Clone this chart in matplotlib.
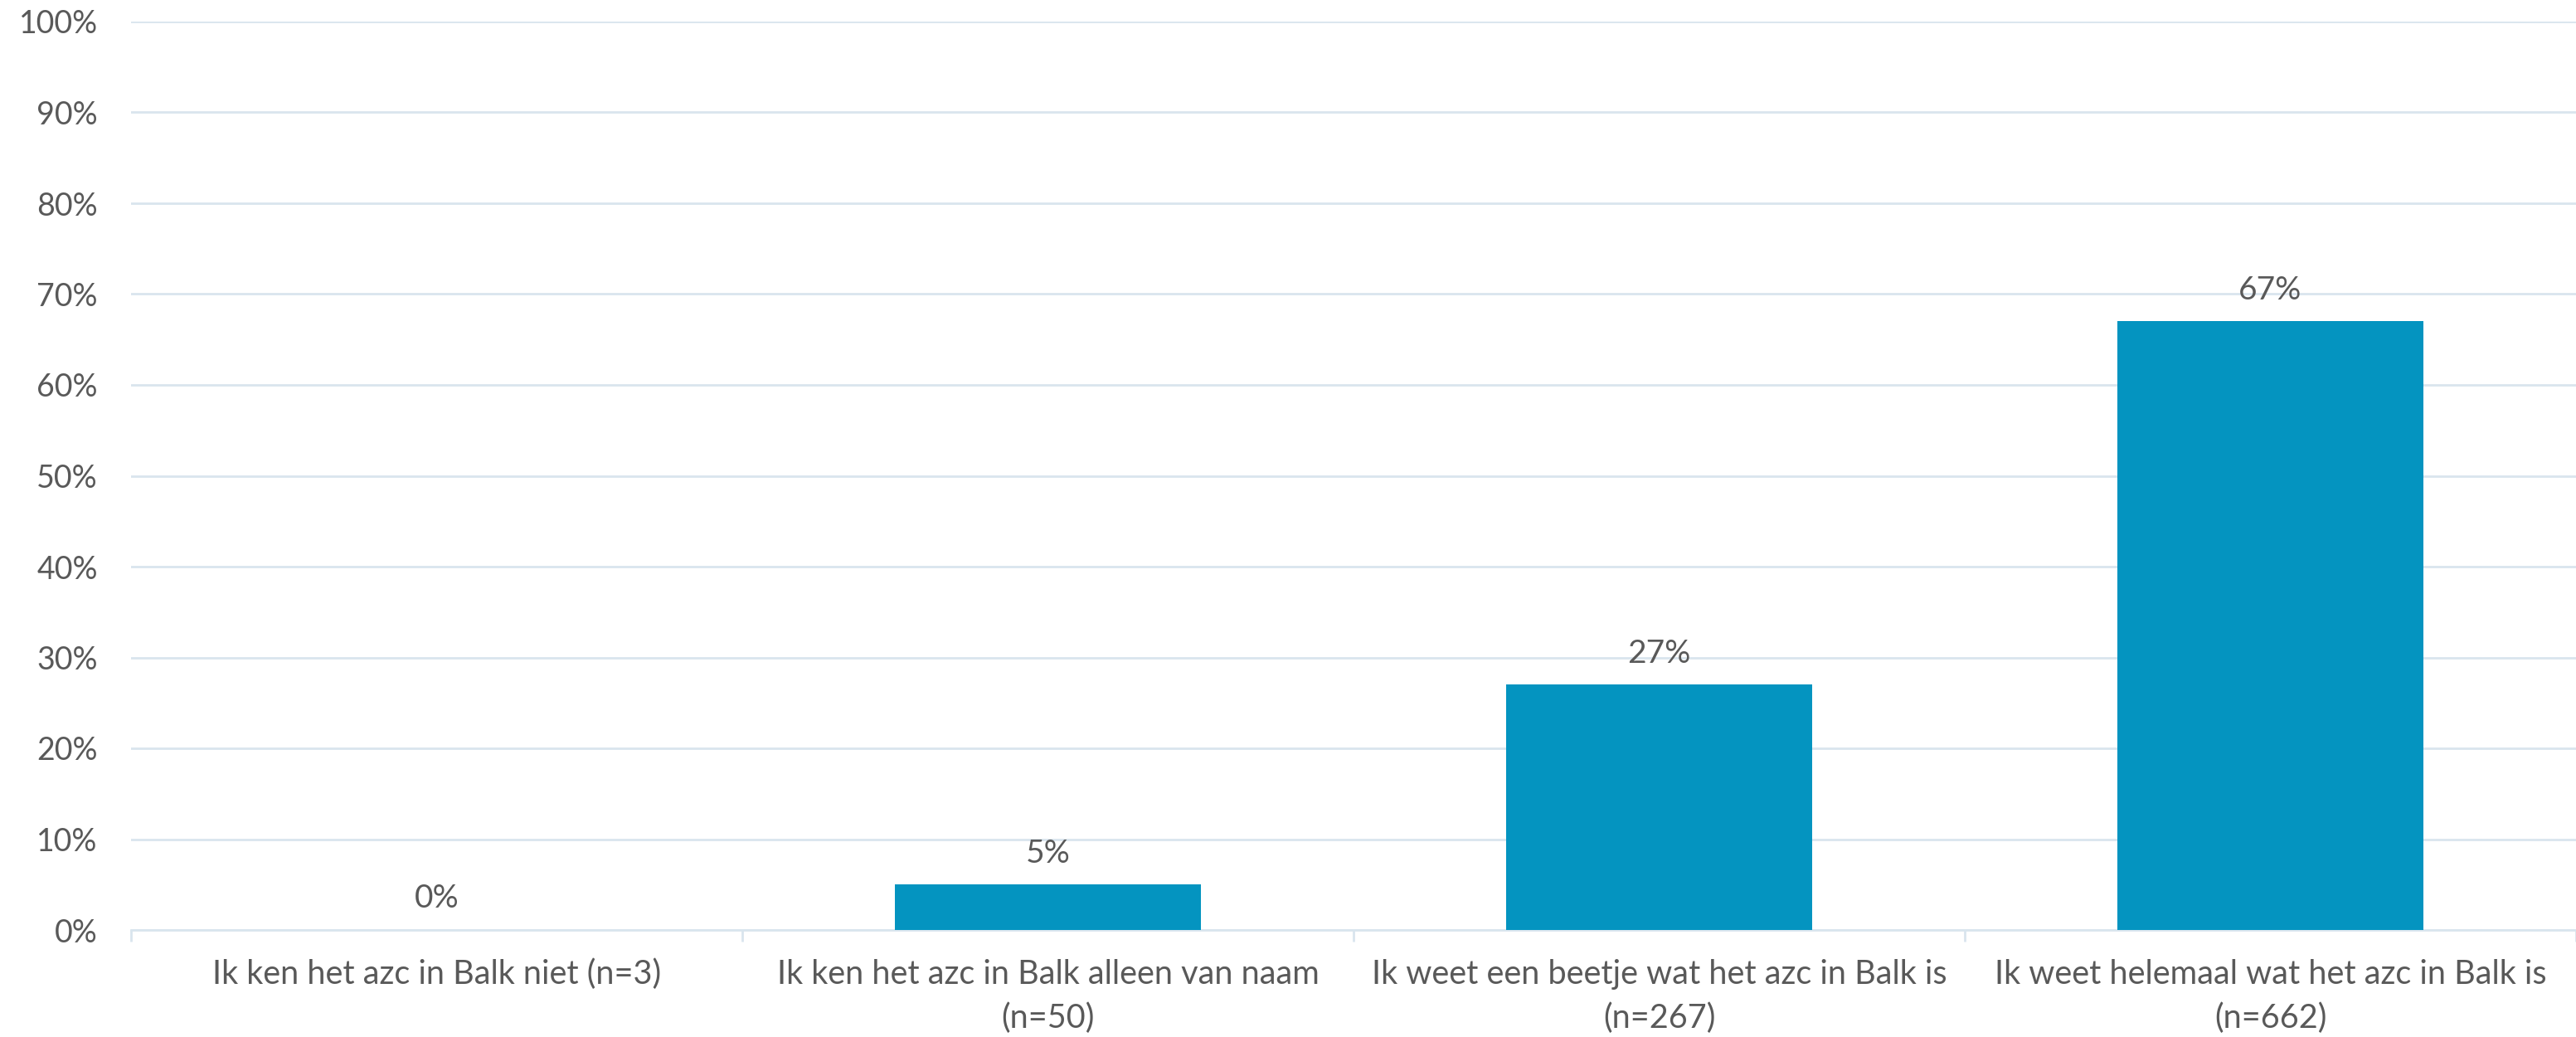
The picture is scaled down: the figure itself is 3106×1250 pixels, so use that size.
import numpy as np
import matplotlib.pyplot as plt
from matplotlib.ticker import FixedLocator, PercentFormatter

plt.rcParams['font.family'] = ['Lato', 'DejaVu Sans']

# data
categories = [
    'Ik ken het azc in Balk niet (n=3)',
    'Ik ken het azc in Balk alleen van naam\n(n=50)',
    'Ik weet een beetje wat het azc in Balk is\n(n=267)',
    'Ik weet helemaal wat het azc in Balk is\n(n=662)',
]
values = [0, 5, 27, 67]
value_labels = ['0%', '5%', '27%', '67%']

bar_color = '#0494C0'
text_color = '#595959'
grid_color = '#D9E5EE'

fig = plt.figure(figsize=(31.06, 12.5), dpi=100)
ax = fig.add_axes([158/3106, 1 - 1121/1250, 1 - 158/3106, (1121 - 26)/1250])

x = np.arange(len(categories))
bars = ax.bar(x, values, width=0.5, color=bar_color, zorder=3)

for xi, v, lab in zip(x, values, value_labels):
    ax.annotate(lab, (xi, v), xytext=(0, 27), textcoords='offset points',
                ha='center', va='center', fontsize=28, color=text_color)

ax.set_xlim(-0.5, len(categories) - 0.5)
ax.set_ylim(0, 100)
ax.set_yticks(np.arange(0, 101, 10))
ax.yaxis.set_major_formatter(PercentFormatter(decimals=0))
ax.grid(axis='y', color=grid_color, linewidth=2, zorder=0)

ax.set_xticks(x)
ax.set_xticklabels(categories, fontsize=28.5, color=text_color, linespacing=1.5)
ax.xaxis.set_minor_locator(FixedLocator(np.arange(-0.5, len(categories), 1.0)))
ax.tick_params(axis='x', which='major', length=0, pad=25)
ax.tick_params(axis='x', which='minor', length=10, width=2, color=grid_color)
ax.tick_params(axis='y', length=0, pad=29, labelsize=27, labelcolor=text_color)

for s in ['top', 'right', 'left']:
    ax.spines[s].set_visible(False)
ax.spines['bottom'].set_color(grid_color)
ax.spines['bottom'].set_linewidth(2)

fig.savefig('out.png', dpi=100)
